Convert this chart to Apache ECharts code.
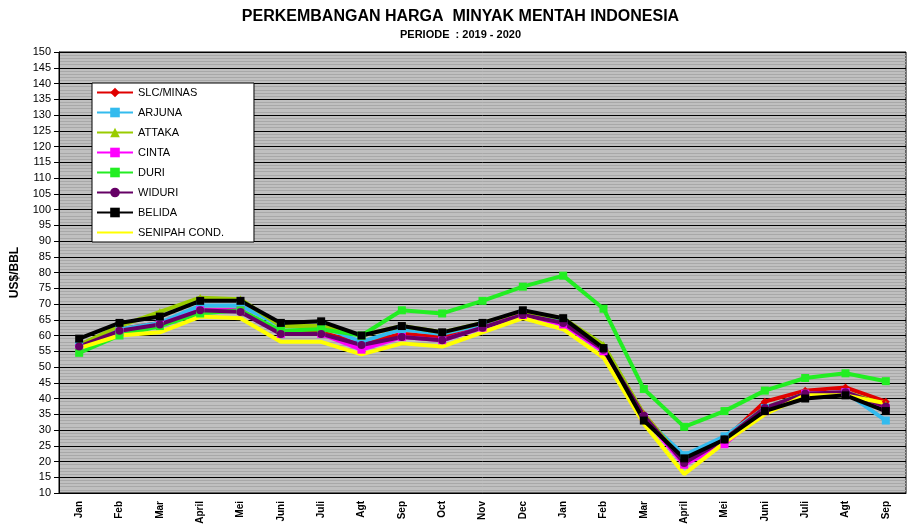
<!DOCTYPE html>
<html><head><meta charset="utf-8">
<script src="https://cdn.jsdelivr.net/npm/echarts@6/dist/echarts.min.js"></script>
<style>html,body{margin:0;background:#fff}#c{width:921px;height:532px}</style></head>
<body><div id="c"></div>
<script>
const categories=['Jan','Feb','Mar','April','Mei','Juni','Juli','Agt','Sep','Oct','Nov','Dec','Jan','Feb','Mar','April','Mei','Juni','Juli','Agt','Sep'];
const slcMinas=[57,62,64,68,68,61,61,57.5,60.5,59.5,63,67,64.5,56,35,20,27,39,42.5,43.5,39];
const arjuna=[57,62,64,69.5,69.5,63,63,58,62,60.5,63.5,67,64.5,55.5,34,22,28,37,41.5,42,33];
const attaka=[57,63,67.5,72,71.5,63,63,60,63,61,64,67.5,65.5,57,35,20,27,37,41.5,42,38];
const cinta=[56,61,63.5,68,68,60.5,60.5,55.5,59.5,58.5,62.5,66.5,63.5,55,34,19,25.5,36,41.5,42,37];
const duri=[54.5,60,63,67,68,61.5,62,60,68,67,71,75.5,79,68.5,43,31,36,42.5,46.5,48,45.5];
const widuri=[56.5,61.5,63.5,68,67.5,60.5,60.5,57,59.5,58.5,62.5,66.5,64,55.5,34.5,19.5,27,37,41.5,42,37.5];
const belida=[59,64,66,71,71,64,64.5,60,63,61,64,68,65.5,56,33,21,27,36,40,41,36];
const senipah=[56,60,61,66,65.5,58,58,54,57.5,56.5,61,65.5,62,53,32,16,26,35,41,41,38.5];
const defs=[
 ['SLC/MINAS',slcMinas,'#e00000','diamond'],
 ['ARJUNA',arjuna,'#33bbee','rect'],
 ['ATTAKA',attaka,'#99cc00','triangle'],
 ['CINTA',cinta,'#ff00ff','rect'],
 ['DURI',duri,'#22ee22','rect'],
 ['WIDURI',widuri,'#660066','circle'],
 ['SENIPAH COND.',senipah,'#ffff00','none'],
 ['BELIDA',belida,'#000000','rect']
];
const ch=echarts.init(document.getElementById('c'));
ch.setOption({
 animation:false,
 title:{text:'PERKEMBANGAN HARGA  MINYAK MENTAH INDONESIA',subtext:'PERIODE  : 2019 - 2020',left:'center',top:4,itemGap:4,
  textStyle:{fontFamily:'Liberation Sans',fontWeight:'bold',fontSize:16,color:'#000'},
  subtextStyle:{fontFamily:'Liberation Sans',fontWeight:'bold',fontSize:11,color:'#000'}},
 grid:{left:59,right:15,top:52,bottom:39,backgroundColor:'#c0c0c0',show:true,borderColor:'#000',borderWidth:1},
 legend:{orient:'vertical',left:92,top:83,itemGap:9,itemWidth:36,itemHeight:12,
  data:['SLC/MINAS','ARJUNA','ATTAKA','CINTA','DURI','WIDURI','BELIDA',
   {name:'SENIPAH COND.',icon:'path://M0,5L36,5L36,7L0,7Z'}],
  backgroundColor:'#fff',borderColor:'#000',borderWidth:1,padding:[4,30,4,4],
  textStyle:{fontFamily:'Liberation Sans',fontSize:11,color:'#000'}},
 xAxis:{type:'category',data:categories,boundaryGap:true,
  axisLine:{lineStyle:{color:'#000'}},axisTick:{lineStyle:{color:'#000'}},
  axisLabel:{rotate:90,interval:0,fontFamily:'Liberation Sans',fontSize:10,fontWeight:'bold',color:'#000'}},
 yAxis:{type:'value',min:10,max:150,interval:5,name:'US$/BBL',nameLocation:'middle',nameGap:38,
  nameTextStyle:{fontFamily:'Liberation Sans',fontWeight:'bold',fontSize:12,color:'#000'},
  axisLine:{show:true,lineStyle:{color:'#000'}},axisTick:{show:true,lineStyle:{color:'#000'}},
  axisLabel:{fontFamily:'Liberation Sans',fontSize:11,color:'#000'},
  splitLine:{lineStyle:{color:'#000',width:1}},
  minorTick:{show:false,splitNumber:5},minorSplitLine:{show:true,lineStyle:{color:'#a8a8a8',width:1}}},
 series:defs.map(d=>({name:d[0],type:'line',data:d[1],symbol:d[3],symbolSize:8,
  lineStyle:{color:d[2],width:4},itemStyle:{color:d[2]}}))
});
</script></body></html>
